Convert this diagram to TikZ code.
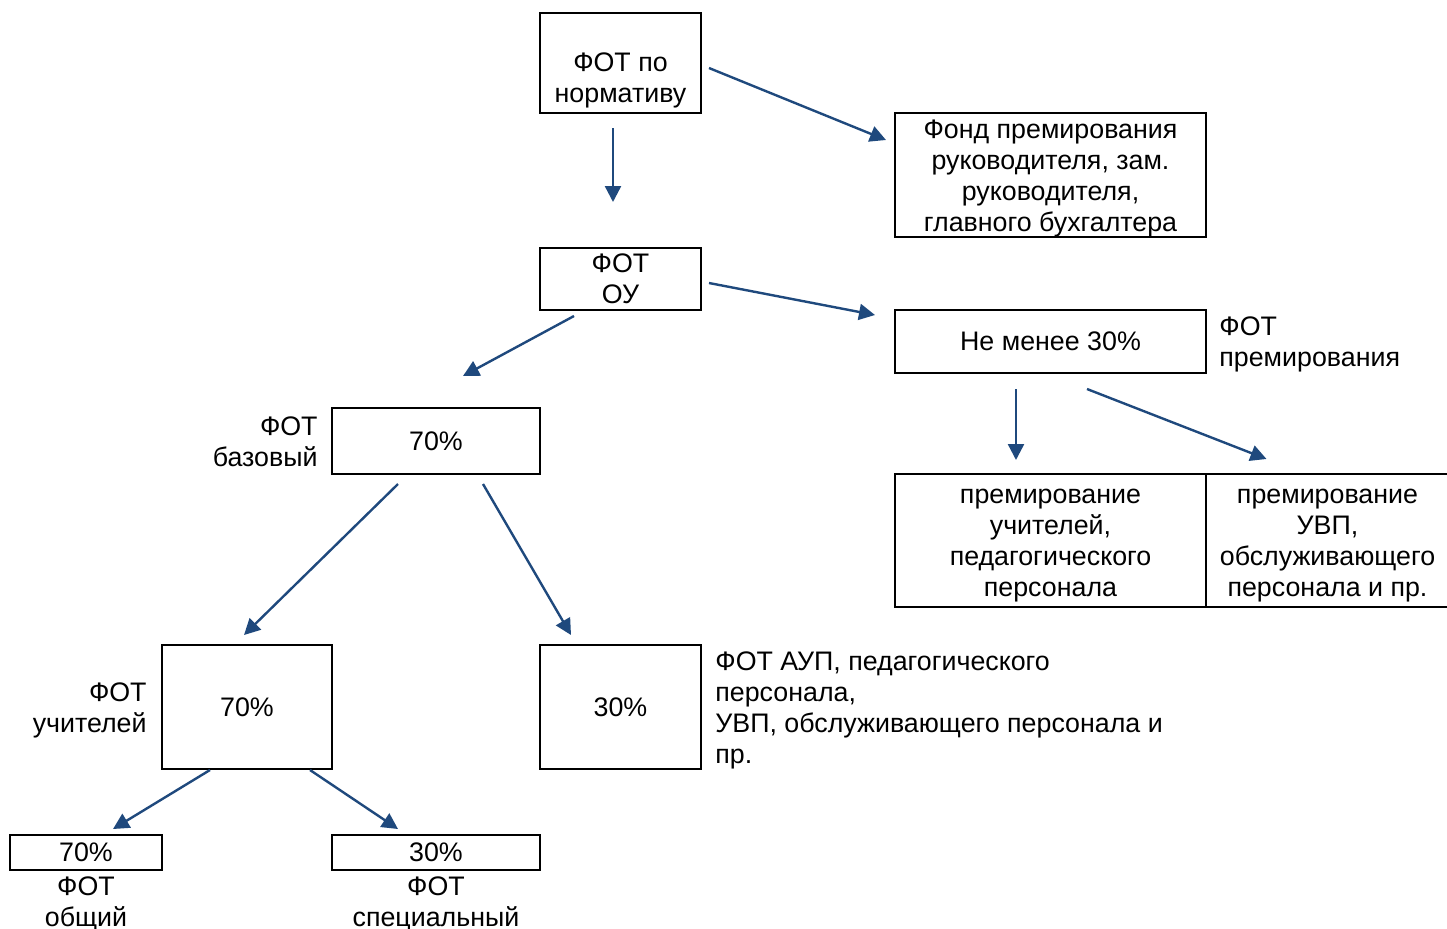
\documentclass[tikz,border=0pt]{standalone}
\usepackage{fontspec}
\setmainfont{Liberation Sans}
\usepackage{tikz}
\usetikzlibrary{calc,arrows.meta}
\definecolor{arrblue}{RGB}{31,73,125}
\newcommand\topstrut{\rule{0pt}{12.5pt}}

\begin{document}
\begin{tikzpicture}[x=0.5pt,y=-0.5pt,
    every node/.style={font=\fontsize{13.4}{15.5}\selectfont},
    box/.style={draw,line width=1pt,align=center,inner sep=0pt},
    note/.style={inner sep=0pt},
    arr/.style={draw=arrblue,line width=1.2pt,-{Triangle[length=8pt,width=8pt]}}]
      \useasboundingbox (0,0) rectangle (1447,928);
      % top level
      \node[box,minimum width=80.5pt,minimum height=50pt] (norm) at (620.5,63) {\strut\\ФОТ по\\нормативу};
      \node[box,minimum width=155.5pt,minimum height=62pt] (fond) at (1050.5,175) {\topstrut Фонд премирования\\руководителя, зам.\\руководителя,\\главного бухгалтера};
      \node[box,minimum width=80.5pt,minimum height=31pt] (ou) at (620.5,279) {ФОТ\\ОУ};
      % bonus part
      \node[box,minimum width=155.5pt,minimum height=31.5pt] (min30) at (1050.5,341.5) {Не менее 30\%};
      \node[note,anchor=west,align=left] (premlbl) at ([shift={(12,3)}]min30.east) {ФОТ\\премирования};
      \node[box,minimum width=155.5pt,minimum height=66.5pt] (premu) at (1050.5,540.5) {\topstrut премирование\\учителей,\\педагогического\\персонала};
      \node[box,minimum width=121.5pt,minimum height=66.5pt] (premuvp) at (1327.5,540.5) {\topstrut премирование\\УВП,\\обслуживающего\\персонала и пр.};
      % base part
      \node[box,minimum width=104pt,minimum height=33pt] (baz) at (436,441) {70\%};
      \node[note,anchor=east,align=right] (bazlbl) at ([shift={(-13,1)}]baz.west) {ФОТ\\базовый};
      \node[box,minimum width=85pt,minimum height=62pt] (uch) at (247,707) {70\%};
      \node[note,anchor=east,align=right] (uchlbl) at ([shift={(-14,3)}]uch.west) {ФОТ\\учителей};
      \node[box,minimum width=80.5pt,minimum height=62pt] (sp30) at (620.5,707) {30\%};
      \node[note,anchor=west,align=left] (sp30lbl) at ([shift={(13,3)}]sp30.east) {ФОТ АУП, педагогического\\персонала,\\УВП, обслуживающего персонала и\\пр.};
      \node[box,minimum width=76pt,minimum height=17.5pt] (obsh) at (86,852.5) {70\%};
      \node[note,anchor=north,align=center] (obshlbl) at ([shift={(0,5)}]obsh.south) {ФОТ\\общий};
      \node[box,minimum width=104pt,minimum height=17.5pt] (spec) at (436,852.5) {30\%};
      \node[note,anchor=north,align=center] (speclbl) at ([shift={(0,5)}]spec.south) {ФОТ\\специальный};
      % arrows
      \draw[arr] ([shift={(7,5)}]norm.east) -- ([shift={(-8,-35)}]fond.west);
      \draw[arr] ([shift={(-7.5,14)}]norm.south) -- ([shift={(-7.5,-45)}]ou.north);
      \draw[arr] ([shift={(7,4)}]ou.east) -- ([shift={(-19,-26.5)}]min30.west);
      \draw[arr] ([shift={(-46.5,5)}]ou.south) -- ([shift={(27,-31)}]baz.north);
      \draw[arr] ([shift={(-34.5,15)}]min30.south) -- ([shift={(-34.5,-13)}]premu.north);
      \draw[arr] ([shift={(36.5,15)}]min30.south) -- ([shift={(-61,-14)}]premuvp.north);
      \draw[arr] ([shift={(-38,9)}]baz.south) -- ([shift={(-3,-9)}]uch.north);
      \draw[arr] ([shift={(47,9)}]baz.south) -- ([shift={(-49.5,-9)}]sp30.north);
      \draw[arr] ([shift={(-37,0)}]uch.south) -- ([shift={(27,-5)}]obsh.north);
      \draw[arr] ([shift={(63,0)}]uch.south) -- ([shift={(-38,-5)}]spec.north);
    \end{tikzpicture}
\end{document}
